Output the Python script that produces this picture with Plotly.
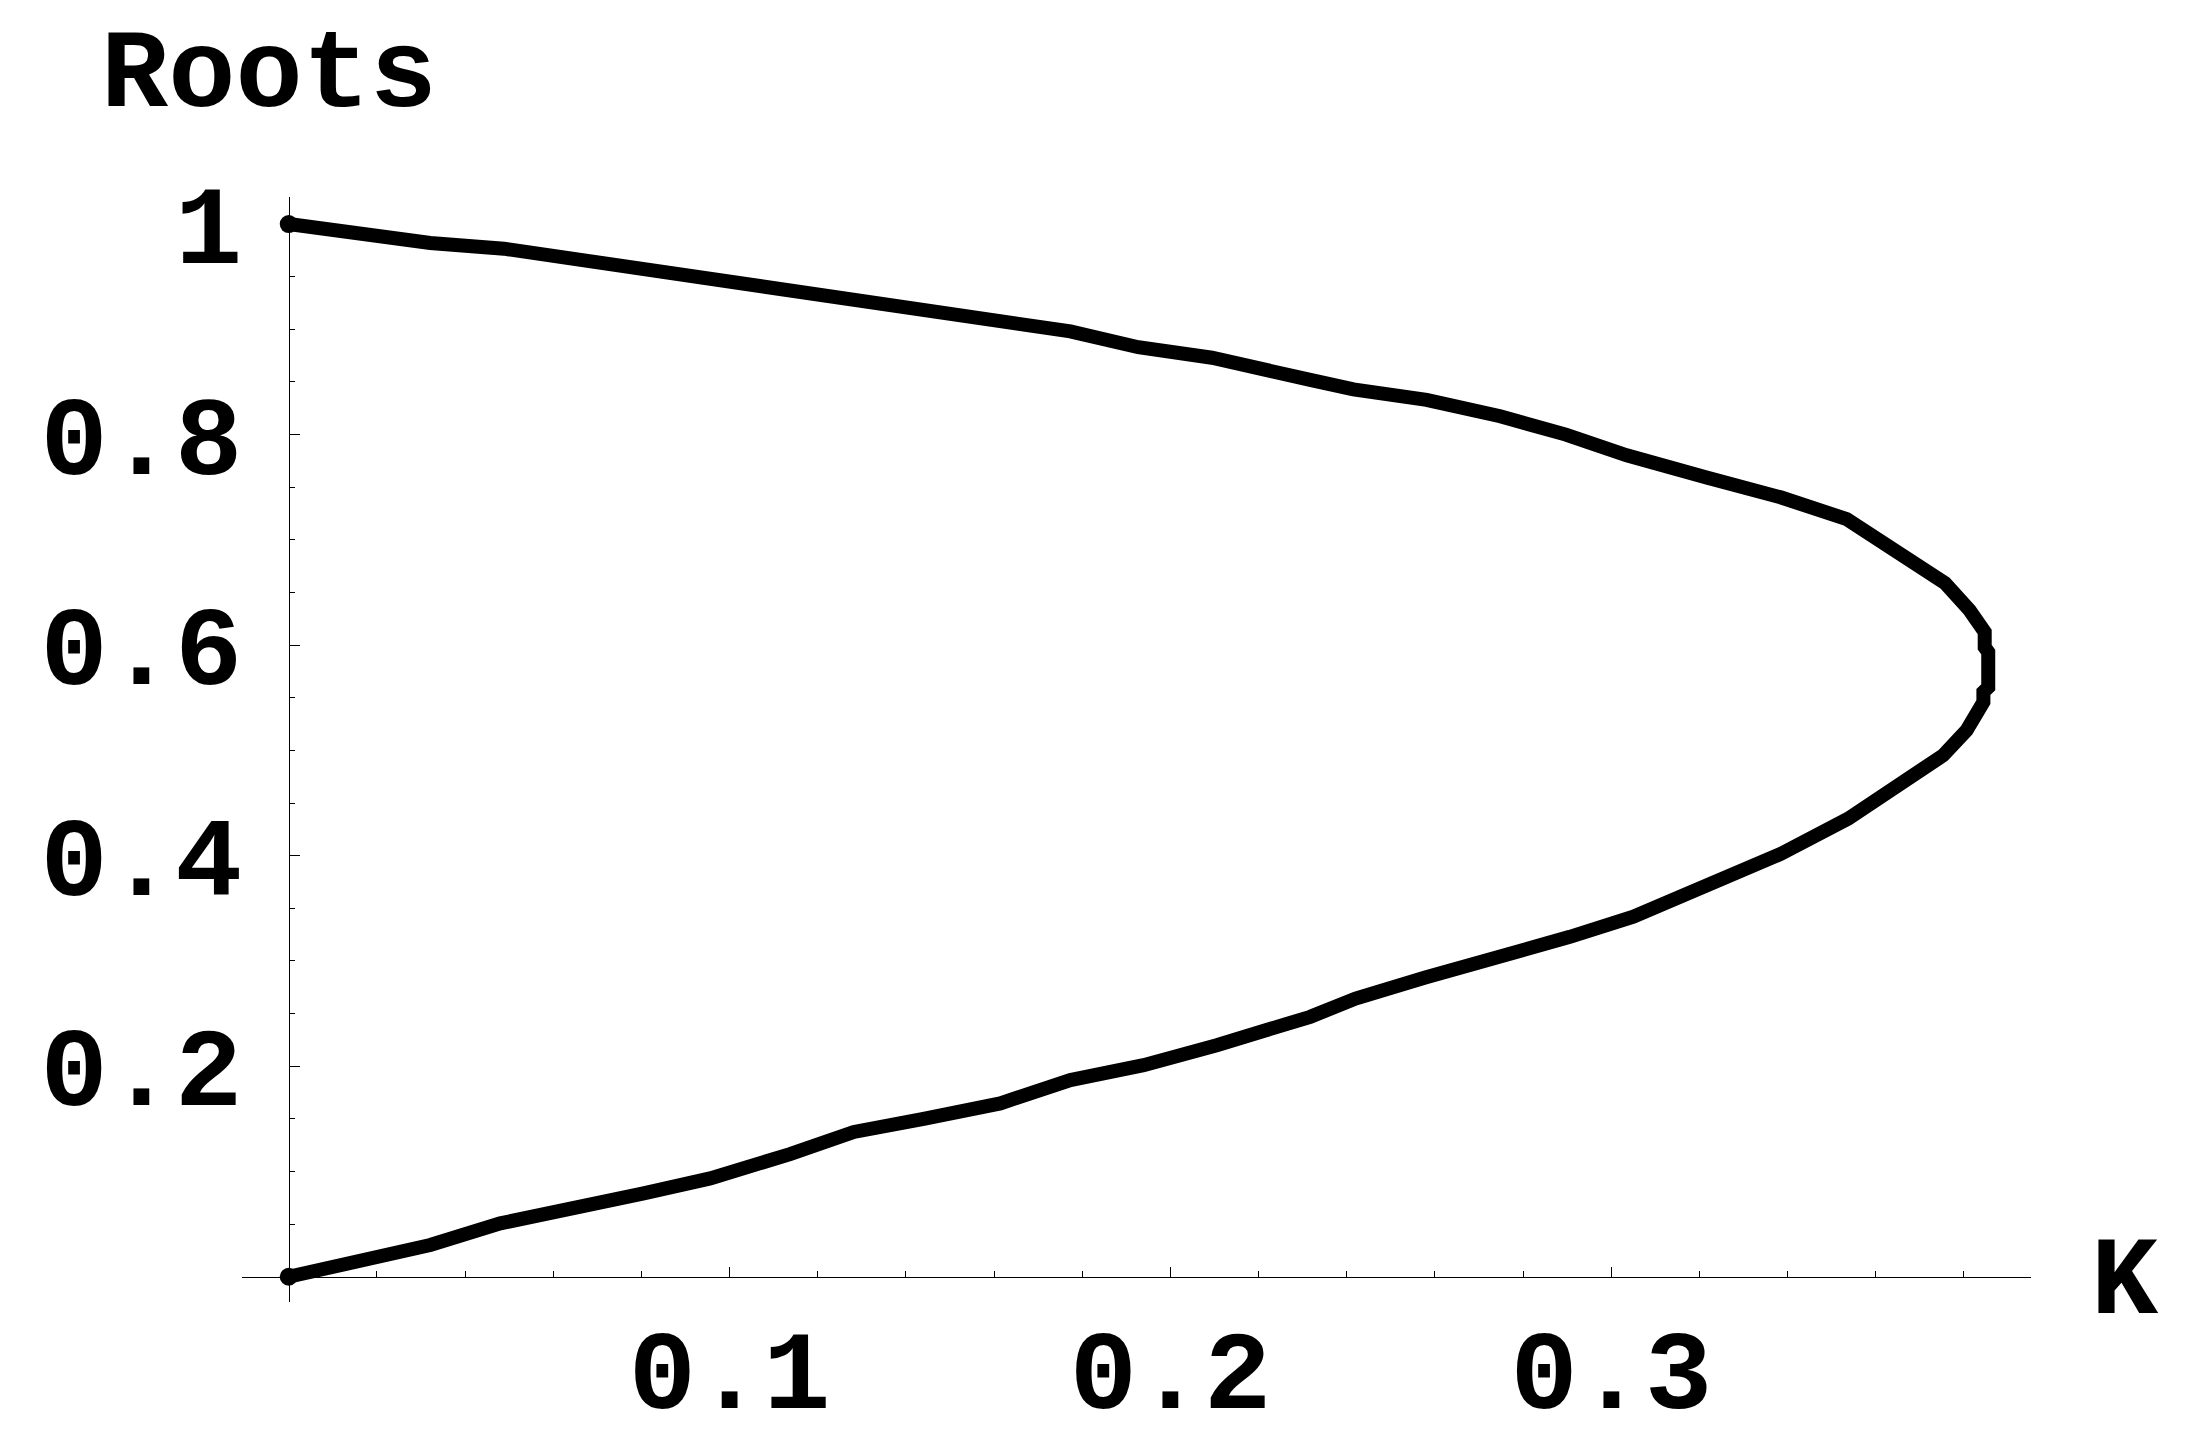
import plotly.graph_objects as go

# Parameter K along the path (upper root branch, around the tip, then lower root branch)
k_path = [0.0, 0.0321, 0.0488, 0.1138, 0.1773, 0.1927, 0.2094, 0.2317, 0.2415, 0.2581,
          0.2748, 0.2897, 0.3035, 0.3216, 0.3384, 0.3534, 0.3700, 0.3757, 0.3813, 0.3829,
          0.3847, 0.3847, 0.3855, 0.3855, 0.3844, 0.3844, 0.3817, 0.3806, 0.3753, 0.3609,
          0.3537, 0.3384, 0.3220, 0.3050, 0.2906, 0.2738, 0.2578, 0.2420, 0.2317, 0.2105,
          0.1939, 0.1773, 0.1614, 0.1440, 0.1282, 0.1137, 0.0956, 0.0805, 0.0480, 0.0321,
          0.0]
root_path = [1.000, 0.982, 0.9766, 0.9364, 0.898, 0.883, 0.873, 0.852, 0.843, 0.833,
             0.8174, 0.800, 0.7803, 0.7592, 0.7404, 0.7197, 0.6727, 0.659, 0.633, 0.622,
             0.6125, 0.598, 0.5935, 0.560, 0.5556, 0.546, 0.5287, 0.519, 0.4954, 0.4575,
             0.435, 0.4016, 0.372, 0.342, 0.3229, 0.3043, 0.2842, 0.2643, 0.2469, 0.220,
             0.201, 0.1868, 0.1647, 0.150, 0.1375, 0.1165, 0.0934, 0.0792, 0.0507, 0.0301,
             0.0]

x_tick_vals = [0.1, 0.2, 0.3]
x_tick_text = ["0.1", "0.2", "0.3"]
y_tick_vals = [0.2, 0.4, 0.6, 0.8, 1.0]
y_tick_text = ["0.2", "0.4", "0.6", "0.8", "1"]

x_range = [-0.0106, 0.3952]
y_range = [-0.024, 1.0257]

FONT = dict(family="Liberation Mono, Courier New, DejaVu Sans Mono, monospace",
            size=112, color="black", weight=700)

fig = go.Figure()
fig.add_trace(go.Scatter(x=k_path, y=root_path, mode="lines",
                         line=dict(color="black", width=14), hoverinfo="skip"))
fig.add_trace(go.Scatter(x=[k_path[0], k_path[-1]], y=[root_path[0], root_path[-1]],
                         mode="markers", marker=dict(color="black", size=18),
                         hoverinfo="skip"))

x_pos = (0 - y_range[0]) / (y_range[1] - y_range[0])
y_pos = (0 - x_range[0]) / (x_range[1] - x_range[0])

fig.update_layout(
    width=2202, height=1446,
    margin=dict(l=241.5, r=171, t=196.6, b=144, pad=0, autoexpand=False),
    paper_bgcolor="white", plot_bgcolor="white",
    showlegend=False,
    xaxis=dict(range=x_range, anchor="free", position=x_pos, automargin=False,
               showgrid=False, zeroline=False, showline=True,
               linecolor="black", linewidth=1.4,
               tickmode="array", tickvals=x_tick_vals, ticktext=x_tick_text,
               ticks="inside", ticklen=10, tickwidth=1.3, tickcolor="black",
               ticklabelstandoff=-4, tickfont=FONT,
               minor=dict(tickmode="linear", tick0=0, dtick=0.02, ticks="inside",
                          ticklen=5.5, tickwidth=1.2, tickcolor="black", showgrid=False)),
    yaxis=dict(range=y_range, anchor="free", position=y_pos, automargin=False,
               showgrid=False, zeroline=False, showline=True,
               linecolor="black", linewidth=1.4,
               tickmode="array", tickvals=y_tick_vals, ticktext=y_tick_text,
               ticks="inside", ticklen=10, tickwidth=1.3, tickcolor="black",
               ticklabelstandoff=24, tickfont=FONT,
               minor=dict(tickmode="linear", tick0=0, dtick=0.05, ticks="inside",
                          ticklen=5.5, tickwidth=1.2, tickcolor="black", showgrid=False)),
    annotations=[
        dict(text="Roots", xref="paper", yref="paper", x=-0.0802, y=1.109,
             xanchor="left", yanchor="middle", showarrow=False, font=FONT),
        dict(text="K", xref="paper", yref="paper", x=1.0525, y=0.017,
             xanchor="center", yanchor="middle", showarrow=False, font=FONT),
    ],
)

fig.write_html("out.html", config={"displayModeBar": False},
               post_script="document.body.style.margin='0';")
